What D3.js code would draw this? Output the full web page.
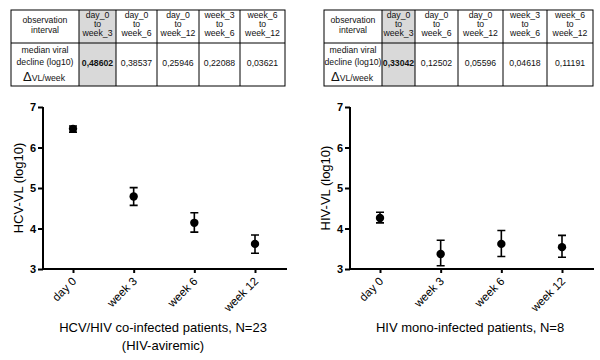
<!DOCTYPE html>
<html>
<head>
<meta charset="utf-8">
<script src="https://cdn.jsdelivr.net/npm/d3@7"></script>
<style>
  body { margin: 0; background: #fff; }
  svg { display: block; }
  .tbl text { font-family: "Liberation Sans Narrow", "Liberation Sans", Arial, sans-serif; font-size: 8.7px; fill: #111; }
  .axis text { font-family: "Liberation Sans", Arial, sans-serif; font-size: 11px; font-weight: bold; fill: #000; }
  .lab { font-family: "Liberation Sans", Arial, sans-serif; font-size: 13px; fill: #000; }
  .cat { font-family: "Liberation Sans Narrow", "Liberation Sans", Arial, sans-serif; font-size: 11.5px; fill: #000; }
  .ttl { font-family: "Liberation Sans Narrow", "Liberation Sans", Arial, sans-serif; font-size: 13px; fill: #000; }
</style>
</head>
<body>
<svg id="chart" width="600" height="360"></svg>
<script>
// categories and tick labels
const timepoints = ["day 0", "week 3", "week 6", "week 12"];
const yTicks = [3, 4, 5, 6, 7];

// table columns (observation intervals)
const intervals = [
  ["day_0", "to", "week_3"],
  ["day_0", "to", "week_6"],
  ["day_0", "to", "week_12"],
  ["week_3", "to", "week_6"],
  ["week_6", "to", "week_12"]
];

// HCV/HIV co-infected
const hcvMean = [6.46, 4.79, 4.14, 3.62];
const hcvLow  = [6.38, 4.57, 3.91, 3.39];
const hcvHigh = [6.53, 5.01, 4.39, 3.84];
const hcvDecline = ["0,48602", "0,38537", "0,25946", "0,22088", "0,03621"];

// HIV mono-infected
const hivMean = [4.26, 3.37, 3.62, 3.54];
const hivLow  = [4.14, 3.08, 3.31, 3.29];
const hivHigh = [4.40, 3.71, 3.95, 3.83];
const hivDecline = ["0,33042", "0,12502", "0,05596", "0,04618", "0,11191"];

const svg = d3.select("#chart");

function drawTable(x0, colW, firstW, values) {
  const g = svg.append("g").attr("class", "tbl");
  const top = 10, mid = 43, bottom = 86;
  const xs = [x0, x0 + firstW];
  colW.forEach(w => xs.push(xs[xs.length - 1] + w));
  const right = xs[xs.length - 1];

  // highlighted first interval column
  g.append("rect").attr("x", xs[1]).attr("y", top)
    .attr("width", xs[2] - xs[1]).attr("height", bottom - top)
    .attr("fill", "#d9d9d9");

  g.append("rect").attr("x", x0).attr("y", top)
    .attr("width", right - x0).attr("height", bottom - top)
    .attr("fill", "none").attr("stroke", "#000").attr("stroke-width", 1);
  g.append("line").attr("x1", x0).attr("x2", right).attr("y1", mid).attr("y2", mid)
    .attr("stroke", "#000");
  xs.slice(1, -1).forEach(x => {
    g.append("line").attr("x1", x).attr("x2", x).attr("y1", top).attr("y2", bottom)
      .attr("stroke", "#000");
  });

  const cx0 = (xs[0] + xs[1]) / 2;
  g.append("text").attr("x", cx0).attr("y", 23).attr("text-anchor", "middle").text("observation");
  g.append("text").attr("x", cx0).attr("y", 33).attr("text-anchor", "middle").text("interval");
  g.append("text").attr("x", cx0).attr("y", 53).attr("text-anchor", "middle").text("median viral");
  g.append("text").attr("x", cx0).attr("y", 65).attr("text-anchor", "middle").text("decline (log10)");
  const d = g.append("text").attr("x", cx0 - 1).attr("y", 81).attr("text-anchor", "middle");
  d.append("tspan").attr("font-size", "13px").text("Δ");
  d.append("tspan").text("VL/week");

  intervals.forEach((lines, i) => {
    const cx = (xs[i + 1] + xs[i + 2]) / 2;
    lines.forEach((t, j) => {
      g.append("text").attr("x", cx).attr("y", 18 + j * 9).attr("text-anchor", "middle").text(t);
    });
    g.append("text").attr("x", cx).attr("y", 66).attr("text-anchor", "middle")
      .attr("font-weight", i === 0 ? "bold" : null).text(values[i]);
  });
}

drawTable(11, [37, 41, 42, 41, 45], 68, hcvDecline);
drawTable(324, [33, 43, 45, 44, 46], 58, hivDecline);

function drawPanel(x0, yLabel, mean, low, high, titles) {
  const axisLen = 244;
  const y = d3.scaleLinear().domain([3, 7]).range([269, 107]);
  const x = d3.scalePoint().domain(timepoints).range([x0 + 30, x0 + 212]);
  const g = svg.append("g");

  const ya = g.append("g").attr("class", "axis")
    .attr("transform", `translate(${x0},0)`)
    .call(d3.axisLeft(y).tickValues(yTicks).tickSize(5).tickPadding(2).tickFormat(d3.format("d")));
  ya.selectAll("path, line").attr("stroke", "#000").attr("stroke-width", 2);
  ya.select(".domain").attr("d", `M0,${y(7)}V${y(3)}`);

  const xa = g.append("g").attr("class", "axis")
    .attr("transform", `translate(0,${y(3)})`)
    .call(d3.axisBottom(x).tickSize(4).tickFormat(""));
  xa.selectAll("line").attr("stroke", "#000").attr("stroke-width", 2);
  xa.select(".domain").attr("d", `M${x0},0H${x0 + axisLen}`).attr("stroke", "#000").attr("stroke-width", 2);

  timepoints.forEach(t => {
    g.append("text").attr("class", "cat")
      .attr("transform", `translate(${x(t) + 4},${y(3) + 13}) rotate(-45)`)
      .attr("text-anchor", "end").text(t);
  });

  g.append("text").attr("class", "lab")
    .attr("transform", `translate(${x0 - 20},${(y(7) + y(3)) / 2}) rotate(-90)`)
    .attr("text-anchor", "middle").text(yLabel);

  const pts = timepoints.map((t, i) => ({ t, m: mean[i], lo: low[i], hi: high[i] }));
  const cap = 4;
  g.selectAll(".err").data(pts).join("path")
    .attr("d", d => `M${x(d.t)},${y(d.lo)}V${y(d.hi)}M${x(d.t) - cap},${y(d.lo)}H${x(d.t) + cap}M${x(d.t) - cap},${y(d.hi)}H${x(d.t) + cap}`)
    .attr("stroke", "#000").attr("stroke-width", 1.6).attr("fill", "none");
  g.selectAll(".pt").data(pts).join("circle")
    .attr("cx", d => x(d.t)).attr("cy", d => y(d.m)).attr("r", 4.2).attr("fill", "#000");

  const cx = x0 + 120;
  titles.forEach((t, i) => {
    g.append("text").attr("class", "ttl").attr("x", cx).attr("y", 332 + i * 18)
      .attr("text-anchor", "middle").text(t);
  });
}

drawPanel(43, "HCV-VL (log10)", hcvMean, hcvLow, hcvHigh,
  ["HCV/HIV co-infected patients, N=23", "(HIV-aviremic)"]);
drawPanel(350, "HIV-VL (log10)", hivMean, hivLow, hivHigh,
  ["HIV mono-infected patients, N=8"]);
</script>
</body>
</html>
